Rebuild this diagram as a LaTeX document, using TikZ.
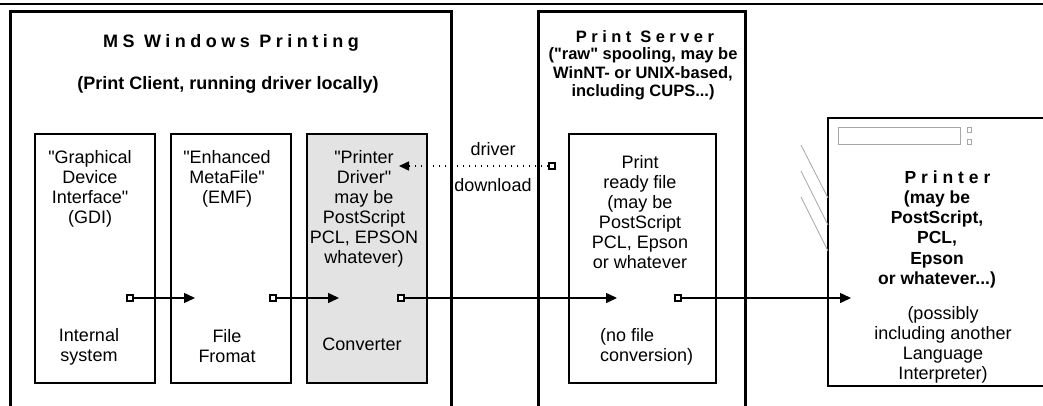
\documentclass[tikz,border=0pt]{standalone}
\usepackage{fontspec}
\setmainfont{Liberation Sans}
\usetikzlibrary{arrows.meta}
\newcommand{\qq}{\textquotedbl}
\begin{document}
\begin{tikzpicture}[x=1pt,y=-1pt,
  outer/.style={line width=3pt},
  innerbox/.style={draw, line width=1.8pt, inner sep=0pt, anchor=north west},
  txt/.style={font=\fontsize{18}{20}\selectfont, align=center, inner sep=0pt},
  sqr/.style={draw, line width=1.2pt, fill=white, minimum size=6pt, inner sep=0pt},
  flow/.style={line width=1.5pt, -{Triangle[length=11pt,width=10pt]}},
  dl/.style={line width=1.6pt, dash pattern=on 1.6pt off 4.4pt, -{Triangle[length=10pt,width=9pt]}},
  ghost/.style={draw=black!35, line width=0.8pt}
]
\useasboundingbox (0,0) rectangle (1043,406);
% top rule
\draw[line width=2.5pt] (0,4) -- (1043,4);
% outer frames
\draw[outer] (10,406) -- (10,12) -- (451.5,12) -- (451.5,406);
\draw[outer] (538.5,406) -- (538.5,12) -- (745,12) -- (745,406);
\draw[line width=2.2pt] (1043,118) -- (828,118) -- (828,386) -- (1043,386);

% inner boxes
\node[innerbox, minimum width=120pt, minimum height=249pt] (gdi) at (34,133) {};
\node[innerbox, minimum width=120pt, minimum height=249pt] (emf) at (170,133) {};
\node[innerbox, fill=black!11, minimum width=120pt, minimum height=249pt] (drv) at (306,133) {};
\node[innerbox, minimum width=147pt, minimum height=249pt] (prf) at (568,133) {};

% titles
\node[txt, font=\fontsize{18}{20}\selectfont\bfseries\addfontfeature{LetterSpace=25}] (t1) at (231,43) {MS Windows Printing};
\node[txt, font=\fontsize{18}{20}\selectfont\bfseries] (t2) at (228,85) {(Print Client, running driver locally)};
\node[txt, font=\fontsize{16.5}{18.5}\selectfont\bfseries\addfontfeature{LetterSpace=27}] (t3) at (645,37) {Print Server};
\node[txt, font=\fontsize{16.5}{18.5}\selectfont\bfseries, anchor=north] (t4) at (643,47.5) {(\qq raw\qq\ spooling, may be\\WinNT- or UNIX-based,\\including CUPS...)};

% box texts
\node[txt, anchor=north] (gdit) at (90,150) {\qq Graphical\\Device\\Interface\qq\\(GDI)};
\node[txt, anchor=north] (gdib) at (89,328) {Internal\\system};
\node[txt, anchor=north] (emft) at (227,150) {\qq Enhanced\\MetaFile\qq\\(EMF)};
\node[txt, anchor=north] (emfb) at (227,329) {File\\Fromat};
\node[txt, anchor=north] (drvt) at (364,150) {\qq Printer\\Driver\qq\\may be\\PostScript\\PCL, EPSON\\whatever)};
\node[txt, anchor=north] (drvb) at (362,338) {Converter};
\node[txt, anchor=north] (prft) at (640,155) {Print\\ready file\\(may be\\PostScript\\PCL, Epson\\or whatever};
\node[txt, anchor=north west, align=left] (prfb) at (600,328) {(no file\\conversion)};

% driver download
\node[txt] (drvl) at (493,149) {driver};
\node[txt] (dwnl) at (493,185) {download};
\node[sqr] (sq0) at (552,166) {};
\coordinate (tip0) at (399,166);
\draw[dl] (sq0) -- (tip0);

% printer
\node[draw=black!35, line width=0.8pt, minimum width=122pt, minimum height=17pt, inner sep=0pt, anchor=north west] (panel) at (838,127) {};
\node[draw=black!35, line width=0.6pt, minimum size=4.5pt, inner sep=0pt] (btn1) at (969.5,130) {};
\node[draw=black!35, line width=0.6pt, minimum size=4.5pt, inner sep=0pt] (btn2) at (969.5,142) {};
\draw[ghost] (801,145) -- (828,198);
\draw[ghost] (801,171) -- (828,225);
\draw[ghost] (801,197) -- (828,251);
\node[txt, font=\fontsize{17.5}{20}\selectfont\bfseries\addfontfeature{LetterSpace=28}] (pt1) at (947.5,177) {Printer};
\node[txt, font=\fontsize{17.5}{20.3}\selectfont\bfseries, anchor=north] (pt2) at (937,190.5) {(may be\\PostScript,\\PCL,\\Epson\\or whatever...)};
\node[txt, anchor=north] (pt3) at (943,306) {(possibly\\including another\\Language\\Interpreter)};

% flow
\node[sqr] (sq1) at (130,298) {};
\node[sqr] (sq2) at (273,298) {};
\node[sqr] (sq3) at (401,298) {};
\node[sqr] (sq4) at (678,298) {};
\coordinate (tip1) at (195,298);
\coordinate (tip2) at (339,298);
\coordinate (tip3) at (617,298);
\coordinate (tip4) at (851,298);
\draw[flow] (sq1) -- (tip1);
\draw[flow] (sq2) -- (tip2);
\draw[flow] (sq3) -- (tip3);
\draw[flow] (sq4) -- (tip4);
\end{tikzpicture}
\end{document}
